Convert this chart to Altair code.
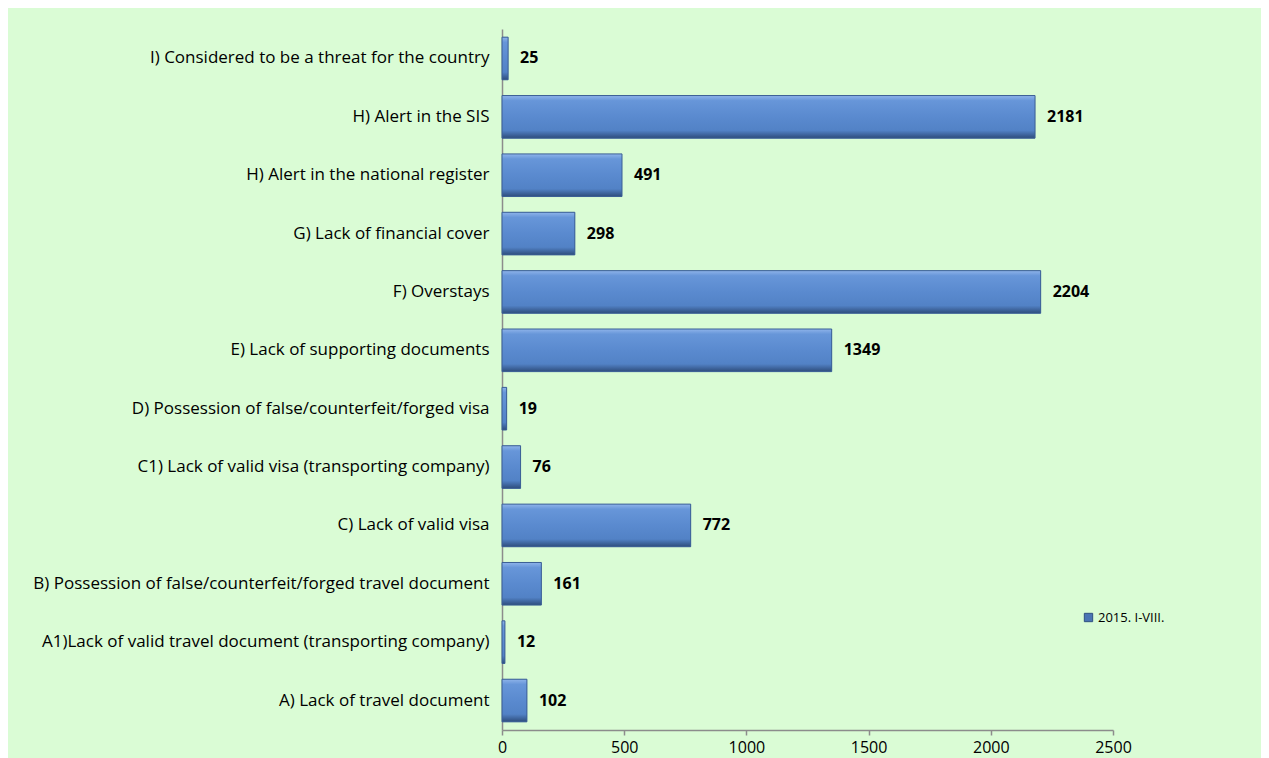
import altair as alt
import pandas as pd

categories = [
    "I) Considered to be a threat for the country",
    "H) Alert in the SIS",
    "H) Alert in the national register",
    "G) Lack of financial cover",
    "F) Overstays",
    "E) Lack of supporting documents",
    "D) Possession of false/counterfeit/forged visa",
    "C1) Lack of valid visa (transporting company)",
    "C) Lack of valid visa",
    "B) Possession of false/counterfeit/forged travel document ",
    "A1)Lack of valid travel document (transporting company)",
    "A) Lack of travel document",
]
values = [25, 2181, 491, 298, 2204, 1349, 19, 76, 772, 161, 12, 102]
series_name = "2015. I-VIII."
x_ticks = [0, 500, 1000, 1500, 2000, 2500]

df = pd.DataFrame({"category": categories, "value": values, "series": series_name})

FONT = "Open Sans"
BG = "#dafcd5"

y_enc = alt.Y(
    "category:N",
    sort=categories,
    title=None,
    scale=alt.Scale(paddingInner=0.27, paddingOuter=0.14),
    axis=alt.Axis(
        labelFontSize=17,
        labelFont=FONT,
        labelColor="#000000",
        labelPadding=13,
        labelLimit=700,
        ticks=False,
        domainColor="#8c8c8c",
        domainWidth=1.5,
        grid=False,
    ),
)
x_enc = alt.X(
    "value:Q",
    title=None,
    scale=alt.Scale(domain=[0, 2500], nice=False),
    axis=alt.Axis(
        values=x_ticks,
        format="d",
        labelFontSize=16,
        labelFont=FONT,
        labelColor="#000000",
        labelPadding=4,
        tickSize=5,
        tickColor="#8c8c8c",
        domainColor="#8c8c8c",
        domainWidth=1.5,
        tickWidth=1.5,
        grid=False,
        labelFlush=False,
    ),
)

base = alt.Chart(df)

legend_layer = base.mark_bar().encode(
    y=y_enc,
    x=x_enc,
    color=alt.Color(
        "series:N",
        scale=alt.Scale(range=["#4a74b4"]),
        legend=alt.Legend(
            title=None,
            orient="none",
            legendX=580,
            legendY=582,
            symbolType="square",
            symbolSize=70,
            symbolStrokeColor="#2f5080",
            symbolStrokeWidth=1,
            labelFont=FONT,
            labelFontSize=13,
            labelColor="#000000",
            labelOffset=3,
        ),
    ),
)

grad = alt.Gradient(
    gradient="linear",
    x1=0, x2=0, y1=0, y2=1,
    stops=[
        alt.GradientStop(color="#8fb4ea", offset=0),
        alt.GradientStop(color="#6796d9", offset=0.12),
        alt.GradientStop(color="#5a8acf", offset=0.5),
        alt.GradientStop(color="#5282c6", offset=0.82),
        alt.GradientStop(color="#2e4d7c", offset=1),
    ],
)

bars = base.mark_bar(fill=grad, stroke="#3b5f95", strokeWidth=1).encode(
    y=alt.Y("category:N", sort=categories),
    x=alt.X("value:Q"),
)

labels = base.mark_text(
    align="left", baseline="middle", dx=12, fontWeight="bold",
    fontSize=16, font=FONT, color="#000000",
).encode(
    y=alt.Y("category:N", sort=categories),
    x=alt.X("value:Q"),
    text=alt.Text("value:Q"),
)

chart = (
    alt.layer(legend_layer, bars, labels)
    .properties(
        width=611,
        height=701,
        autosize=alt.AutoSizeParams(type="none"),
        padding={"left": 494, "top": 21, "right": 148, "bottom": 28},
        background=BG,
    )
    .configure_view(stroke=None)
)

chart.save("out.html", embed_options={"renderer": "svg", "actions": False})
